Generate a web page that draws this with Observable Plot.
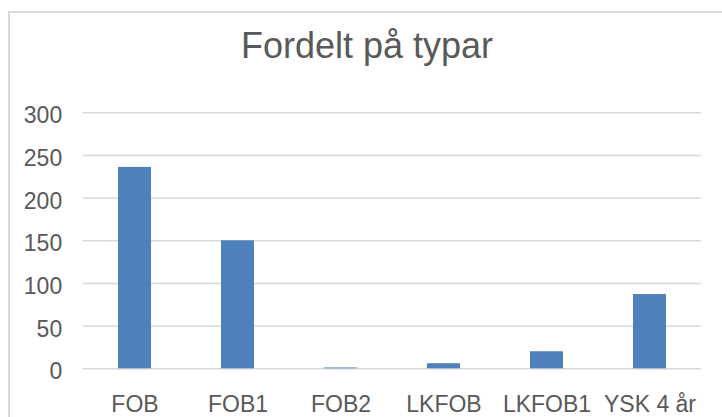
<!DOCTYPE html>
<html>
<head>
<meta charset="utf-8">
<script src="https://cdn.jsdelivr.net/npm/d3@7"></script>
<script src="https://cdn.jsdelivr.net/npm/@observablehq/plot@0.6"></script>
<style>
  html, body { margin: 0; padding: 0; background: #fff; overflow: hidden; width: 722px; height: 417px; }
  body { position: relative; font-family: "Liberation Sans", Arial, sans-serif; }
  #frame { position: absolute; left: 8px; top: 11px; width: 800px; height: 500px;
           border-left: 2px solid #d9d9d9; border-top: 2px solid #d9d9d9; box-sizing: border-box; }
  #chart { position: absolute; left: 0; top: 0; width: 722px; }
  #title { height: 90px; box-sizing: border-box; padding-top: 26px; line-height: 40px;
           font-size: 36px; color: #595959; width: 734px; text-align: center; }
  svg { display: block; }
</style>
</head>
<body>
<div id="frame"></div>
<div id="chart"><div id="title">Fordelt på typar</div></div>
<script>
const categories = ["FOB", "FOB1", "FOB2", "LKFOB", "LKFOB1", "YSK 4 år"];
const values = [236, 150, 1, 6, 20, 87];
const yTicks = [0, 50, 100, 150, 200, 250, 300];

const data = categories.map((c, i) => ({category: c, value: values[i]}));

const chart = Plot.plot({
  width: 722,
  height: 327,
  marginTop: 22.3,
  marginBottom: 48.7,
  marginLeft: 82.7,
  marginRight: 21.3,
  style: {fontFamily: "'Liberation Sans', Arial, sans-serif", color: "#595959", background: "transparent"},
  x: {domain: categories, paddingInner: 0.68, paddingOuter: 0.34, label: null},
  y: {domain: [0, 300], label: null},
  marks: [
    Plot.ruleY(yTicks, {stroke: "#d9d9d9", strokeWidth: 1.5}),
    Plot.barY(data, {x: "category", y: "value", fill: "#4f81bd"}),
    Plot.axisY({ticks: yTicks, tickSize: 0, tickPadding: 21, fontSize: 23, dy: 3, label: null, fill: "#595959"}),
    Plot.axisX({tickSize: 0, tickPadding: 27, fontSize: 23, label: null, fill: "#595959"})
  ]
});
document.getElementById("chart").appendChild(chart);
</script>
</body>
</html>
